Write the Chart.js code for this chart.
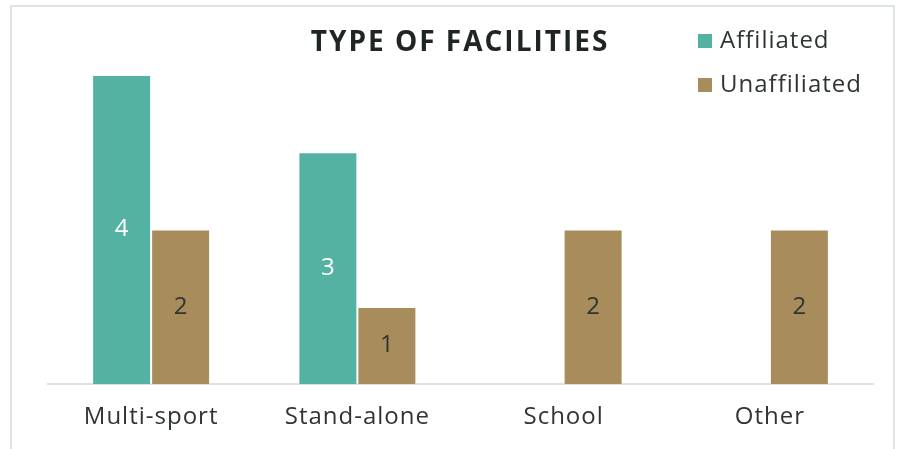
<!DOCTYPE html>
<html>
<head>
<meta charset="utf-8">
<script src="https://cdn.jsdelivr.net/npm/chart.js@4"></script>
<style>
  html, body { margin: 0; padding: 0; background: #ffffff; }
  #wrap { position: relative; width: 902px; height: 449px; }
  #frame { position: absolute; left: 10px; top: 5px; width: 885px; height: 460px; border: 2px solid #dde5e3; box-sizing: border-box; pointer-events: none; }
</style>
</head>
<body>
<div id="wrap">
  <canvas id="c" width="902" height="449"></canvas>
  <div id="frame"></div>
</div>
<script>
const categories = ["Multi-sport", "Stand-alone", "School", "Other"];
const affiliated = [4, 3, 0, 0];
const unaffiliated = [2, 1, 2, 2];
const seriesNames = ["Affiliated", "Unaffiliated"];
const titleText = "TYPE OF FACILITIES";

const FONT = "'Open Sans', sans-serif";
const TEXT = "#2f3533";
const colors = ["#54b2a2", "#a88c5b"];
const labelColors = ["#ffffff", "#2f3533"];

const spacing = {
  id: 'spacing',
  beforeInit(chart) { chart.ctx.letterSpacing = '1px'; },
  beforeDraw(chart) { chart.ctx.letterSpacing = '1px'; }
};

const overlay = {
  id: 'overlay',
  afterDatasetsDraw(chart) {
    const ctx = chart.ctx;
    ctx.save();
    ctx.letterSpacing = '0px';
    // value labels
    chart.data.datasets.forEach((ds, di) => {
      const meta = chart.getDatasetMeta(di);
      meta.data.forEach((bar, i) => {
        const v = ds.data[i];
        if (!v) return;
        ctx.fillStyle = labelColors[di];
        ctx.font = "24px " + FONT;
        ctx.textAlign = 'center';
        ctx.textBaseline = 'middle';
        ctx.fillText(String(v), bar.x, (bar.y + bar.base) / 2);
      });
    });
    // title
    ctx.fillStyle = "#1f2522";
    ctx.font = "bold 28px " + FONT;
    ctx.letterSpacing = '2px';
    ctx.textAlign = 'center';
    ctx.textBaseline = 'middle';
    ctx.fillText(titleText, 460, 43);
    // legend
    ctx.font = "24px " + FONT;
    ctx.letterSpacing = '1px';
    ctx.textAlign = 'left';
    chart.data.datasets.forEach((ds, di) => {
      const y = 41 + di * 44;
      ctx.fillStyle = ds.backgroundColor;
      ctx.fillRect(698, y - 7, 14, 14);
      ctx.fillStyle = TEXT;
      ctx.fillText(ds.label, 720, y);
    });
    ctx.restore();
  }
};

new Chart(document.getElementById('c'), {
  type: 'bar',
  data: {
    labels: categories,
    datasets: [
      { label: seriesNames[0], data: affiliated, backgroundColor: colors[0], borderColor: 'rgba(255,255,255,0.55)', borderWidth: 1 },
      { label: seriesNames[1], data: unaffiliated, backgroundColor: colors[1], borderColor: 'rgba(255,255,255,0.55)', borderWidth: 1 }
    ]
  },
  options: {
    responsive: false,
    animation: false,
    layout: { padding: { left: 48, right: 29, top: 75, bottom: 6 } },
    plugins: { legend: { display: false }, title: { display: false }, tooltip: { enabled: false } },
    datasets: { bar: { categoryPercentage: 0.572, barPercentage: 1.0 } },
    scales: {
      x: {
        grid: { display: false },
        border: { color: '#dde3e2', width: 2 },
        ticks: { color: TEXT, font: { family: FONT, size: 24 }, padding: 11 }
      },
      y: { display: false, min: 0, max: 4 }
    }
  },
  plugins: [spacing, overlay]
});
</script>
</body>
</html>
